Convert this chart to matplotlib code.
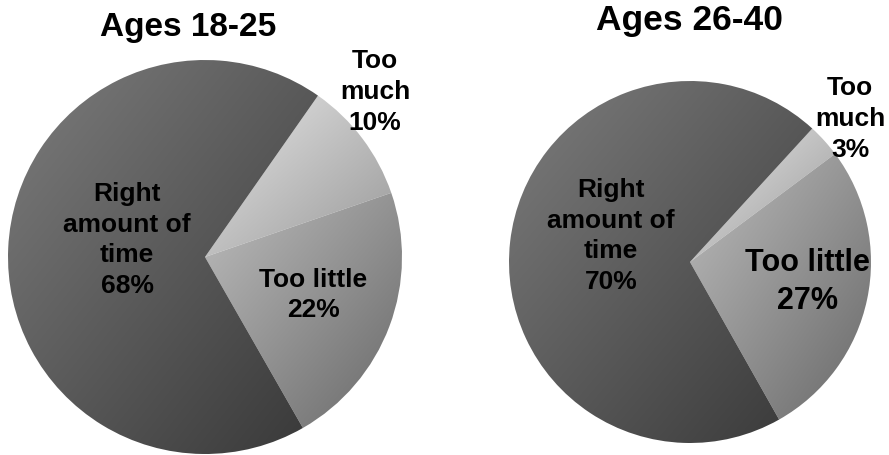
import numpy as np
import matplotlib
matplotlib.use("Agg")
import matplotlib.pyplot as plt

# data
categories = ["Too much", "Too little", "Right amount of time"]
label_names = ["Too\nmuch", "Too little", "Right\namount of\ntime"]
ages_18_25 = [10, 22, 68]
ages_26_40 = [3, 27, 70]
titles = ["Ages 18-25", "Ages 26-40"]

# gradient (top-left grey, bottom-right grey) per slice
grad = {"Too much": (0.90, 0.60), "Too little": (0.74, 0.41), "Right amount of time": (0.49, 0.22)}

W, H = 889, 456
fig = plt.figure(figsize=(W / 100, H / 100), dpi=100)
ax = fig.add_axes([0, 0, 1, 1])
plt.rcParams['font.family'] = ['Liberation Sans', 'DejaVu Sans']


def py(y):
    return H - y


def gradient_fill(wedge, c0, c1):
    ext = wedge.get_path().get_extents()
    n = 200
    i, j = np.mgrid[0:n, 0:n] / (n - 1)
    t = (i + j) / 2
    g = c0 + (c1 - c0) * t
    img = np.dstack([g, g, g])
    im = ax.imshow(img, extent=(ext.x0, ext.x1, ext.y0, ext.y1), origin="upper",
                   interpolation="bilinear", zorder=1)
    im.set_clip_path(wedge)
    wedge.set_facecolor("none")


pies = [
    (ages_18_25, (205, py(258)), 197, 55),
    (ages_26_40, (690, py(263)), 181, 47.5),
]
for vals, center, r, start in pies:
    wedges, _ = ax.pie(vals, center=center, radius=r, startangle=start,
                       counterclock=False, wedgeprops=dict(linewidth=0, edgecolor="none"))
    for w, cat in zip(wedges, categories):
        gradient_fill(w, *grad[cat])

# titles
ax.text(188, py(27), titles[0], ha="center", va="center", fontsize=24, fontweight="bold")
ax.text(690, py(20), titles[1], ha="center", va="center", fontsize=25.5, fontweight="bold")

# slice labels
def lab(x, y, name, v, size=19):
    ax.text(x, py(y), f"{name}\n{v}%", ha="center", va="center", multialignment="center",
            fontsize=size, fontweight="bold", linespacing=1.35, zorder=5)

lab(375, 92, label_names[0], ages_18_25[0])
lab(313, 295, label_names[1], ages_18_25[1])
lab(127, 240, label_names[2], ages_18_25[2])

lab(850, 119, label_names[0], ages_26_40[0])
lab(807, 282, label_names[1], ages_26_40[1], size=22)
lab(611, 236, label_names[2], ages_26_40[2])

ax.set_xlim(0, W)
ax.set_ylim(0, H)
ax.set_aspect("auto")
ax.axis("off")

fig.savefig("out.png", dpi=100)
